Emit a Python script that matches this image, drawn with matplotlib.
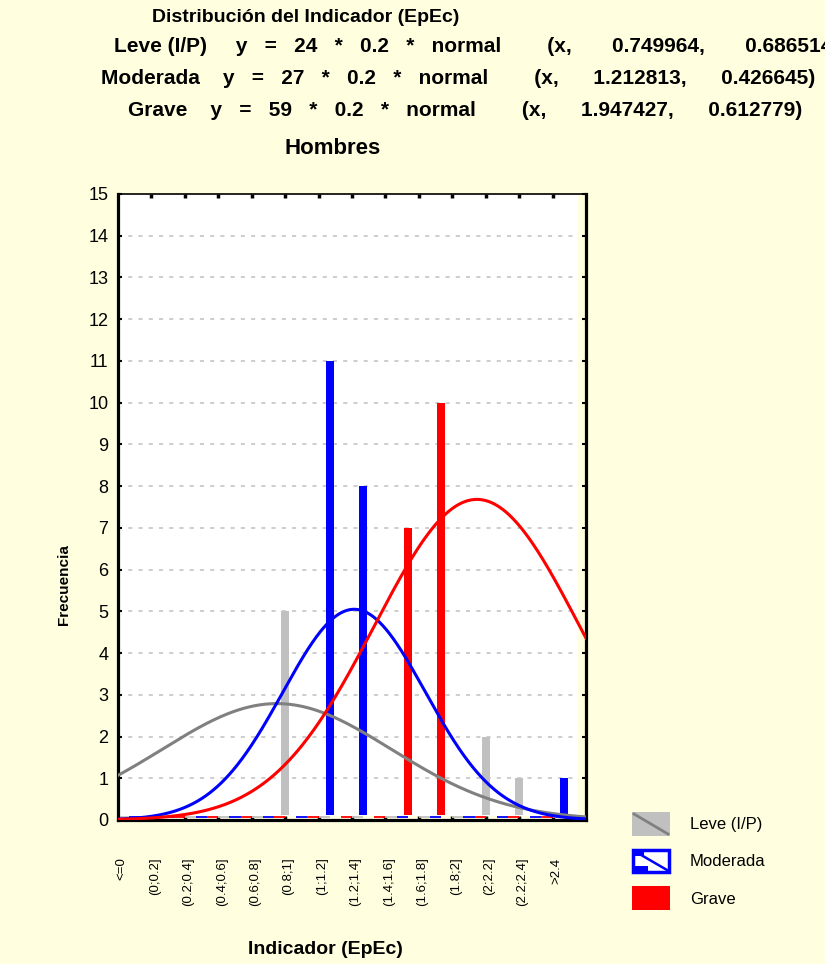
import numpy as np
import matplotlib
matplotlib.use("Agg")
import matplotlib.pyplot as plt
from matplotlib.patches import Rectangle

plt.rcParams['font.family'] = ['Liberation Sans', 'DejaVu Sans']

# ---------------- data ----------------
categories = ["<=0", "(0;0.2]", "(0.2;0.4]", "(0.4;0.6]", "(0.6;0.8]", "(0.8;1]",
              "(1;1.2]", "(1.2;1.4]", "(1.4;1.6]", "(1.6;1.8]", "(1.8;2]",
              "(2;2.2]", "(2.2;2.4]", ">2.4"]
leve = [0, 0, 0, 0, 0, 5, 0, 0, 0, 0, 0, 2, 1, 0]
moderada = [0, 0, 0, 0, 0, 0, 11, 8, 0, 0, 0, 0, 0, 1]
grave = [0, 0, 0, 0, 0, 0, 0, 0, 7, 10, 0, 0, 0, 0]
series_names = ["Leve (I/P)", "Moderada", "Grave"]
fit_n = [24, 27, 59]
fit_mean = [0.749964, 1.212813, 1.947427]
fit_sd = [0.686514, 0.426645, 0.612779]
bin_width = 0.2
first_lower = -0.2
y_ticks = list(range(0, 16))

title = "Distribución del Indicador (EpEc)"
subtitle = "Hombres"
x_label = "Indicador (EpEc)"
y_label = "Frecuencia"

# ---------------- style ----------------
BG = '#FFFFE0'
bar_colors = ['#C0C0C0', '#0000FF', '#FF0000']
curve_colors = ['#808080', '#0000FF', '#FF0000']

W, H = 825, 964
fig = plt.figure(figsize=(W / 100, H / 100), dpi=100, facecolor=BG)

L, R, T, B = 118, 586, 194, 820
ax = fig.add_axes([L / W, 1 - B / H, (R - L) / W, (B - T) / H])
ax.set_facecolor(BG)

n_cat = len(categories)
x_min = first_lower
x_max = first_lower + bin_width * n_cat
ax.set_xlim(x_min, x_max)
ax.set_ylim(0, 15)

# white plotting field (slightly inset like the original)
white_right = 2.552
ax.add_patch(Rectangle((x_min, 0.1), white_right - x_min, 15 - 0.1,
                       facecolor='white', edgecolor='none', zorder=0))

# grid
for yv in y_ticks[1:-1]:
    ax.hlines(yv, x_min, white_right, colors='#C0C0C0', linewidth=1.1,
              linestyles=(0, (2.7, 4)), zorder=1)

# bars
lowers = first_lower + bin_width * np.arange(n_cat)
all_series = [leve, moderada, grave]
bar_w = 0.048
base = 0.12
for k, (vals, col) in enumerate(zip(all_series, bar_colors)):
    pos = lowers + k * bin_width / 3
    vals = np.asarray(vals, dtype=float)
    nz = vals > 0
    ax.bar(pos[nz], vals[nz] - base, bottom=base, width=bar_w, color=col,
           edgecolor='none', zorder=2)
    z = ~nz
    ax.hlines(np.full(z.sum(), 0.07), pos[z], pos[z] + bin_width / 3,
              colors=col, linewidth=1.3, zorder=2)

# fitted normal curves
xs = np.linspace(x_min, x_max, 600)
for n, m, s, col in zip(fit_n, fit_mean, fit_sd, curve_colors):
    ys = n * bin_width * np.exp(-0.5 * ((xs - m) / s) ** 2) / (s * np.sqrt(2 * np.pi))
    ax.plot(xs, ys, color=col, linewidth=2.2, zorder=3, clip_on=True)

# spines
for side in ['left', 'right', 'bottom']:
    ax.spines[side].set_linewidth(2.3)
ax.spines['top'].set_linewidth(1.2)

# ticks
ax.set_xticks(lowers[1:])
ax.set_xticklabels([])
ax.tick_params(axis='x', which='major', direction='in', top=True, bottom=True,
               length=3, width=2.5)
ax.set_xticks(lowers + 0.02, minor=True)
ax.set_xticklabels(categories, minor=True, rotation=90, va='top', ha='center',
                   fontsize=9.5)
ax.tick_params(axis='x', which='minor', length=0, pad=27)

ax.set_yticks(y_ticks)
ax.set_yticklabels([str(v) for v in y_ticks], fontsize=13)
ax.tick_params(axis='y', direction='in', left=True, right=True, length=3,
               width=1.5, pad=7)

# ---------------- texts and legend (pixel overlay) ----------------
ov = fig.add_axes([0, 0, 1, 1], facecolor='none')
ov.set_xlim(0, W)
ov.set_ylim(H, 0)
ov.axis('off')

ov.text(152, 18, title, fontsize=14, fontweight='bold', ha='left', va='center')
fit_lines = [
    "Leve (I/P)     y   =   24   *   0.2   *   normal        (x,       0.749964,       0.686514)",
    "Moderada    y   =   27   *   0.2   *   normal        (x,      1.212813,      0.426645)",
    "Grave    y   =   59   *   0.2   *   normal        (x,      1.947427,      0.612779)",
]
fit_x = [114, 101, 128]
fit_y = [46, 79, 111]
for s_, xx, yy in zip(fit_lines, fit_x, fit_y):
    ov.text(xx, yy, s_, fontsize=15, fontweight='bold', ha='left', va='center')
ov.text(285, 149, subtitle, fontsize=16, fontweight='bold', ha='left', va='center')

ov.text(325, 950, x_label, fontsize=14, fontweight='bold', ha='center', va='center')
ov.text(64, 585, y_label, fontsize=11, fontweight='bold', ha='center',
        va='center', rotation=90)

# legend
leg_y = [812, 849, 886]
for i, (name, yy) in enumerate(zip(series_names, leg_y)):
    if i == 0:
        ov.add_patch(Rectangle((632, yy), 38, 24, facecolor=bar_colors[0],
                               edgecolor='none'))
        ov.plot([634, 668], [yy + 2, yy + 22], color=curve_colors[0], linewidth=2)
    elif i == 1:
        ov.add_patch(Rectangle((633, yy + 1), 36, 22, facecolor='white',
                               edgecolor=bar_colors[1], linewidth=2.5))
        ov.add_patch(Rectangle((634, yy + 2), 10, 5, facecolor=bar_colors[1],
                               edgecolor='none'))
        ov.add_patch(Rectangle((634, yy + 17), 14, 5, facecolor=bar_colors[1],
                               edgecolor='none'))
        ov.plot([636, 667], [yy + 3, yy + 21], color=bar_colors[1], linewidth=1.8)
    else:
        ov.add_patch(Rectangle((632, yy), 38, 24, facecolor=bar_colors[2],
                               edgecolor='none'))
    ov.text(690, yy + 13, name, fontsize=12, ha='left', va='center')

fig.savefig("out.png", dpi=100, facecolor=BG)
